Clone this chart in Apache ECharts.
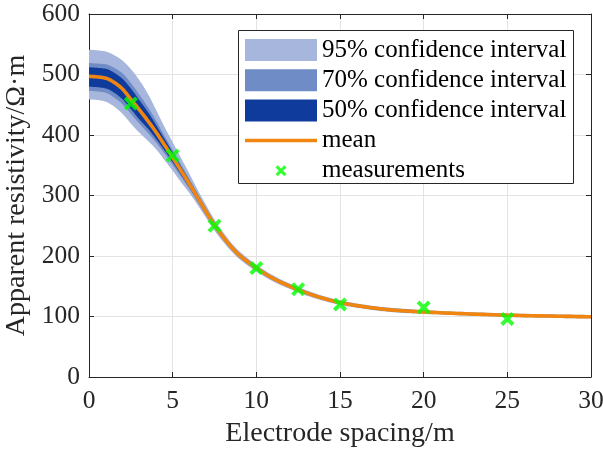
<!DOCTYPE html>
<html><head><meta charset="utf-8">
<script src="https://cdn.jsdelivr.net/npm/echarts@6/dist/echarts.min.js"></script>
<style>html,body{margin:0;padding:0;background:#fff}#c{width:603px;height:454px}</style>
</head><body><div id="c"></div>
<script>
// ---- data ----
const xs       = [0,0.5,1,1.5,2,2.5,3,3.5,4,4.5,5,5.5,6,6.5,7,7.5,8,8.5,9,9.5,10,11,12,13,14,15,16,17,18,19,20,22,24,26,28,30];
const meanVals = [497,496,494,487,476,459,442,424,405,384,363,341,319,296,273,251,232,215,201,190,180,163,150,139,130,123,118,114,111,109,107.5,105,103,101.5,100.5,99.5];
const upper95  = [541,540,538,532,523,509,491,469,442,414,388,362,336,309,284,260,240,222,207.5,196,185.5,168,154.5,143.5,134,127,121.5,117.5,114.5,112.5,110.5,108,106,104.5,103.5,102.5];
const lower95  = [459,458,455,447,435,419,404,391,377,359,341,322,304,284,263,242,224,208,194.5,184,174.5,158,145.5,134.5,126,119,114.5,110.5,107.5,105.5,104.5,102,100,98.5,97.5,96.5];
const upper70  = [519,518,517,511,502,486,467,447,424,399,375,351,327,303,279,256,236.5,219,205,193.5,183.5,166,153,141.5,132.5,125.5,120.5,116.5,113.5,111.5,109.5,107,105,103.5,102.5,101.5];
const lower70  = [473,472,470,462,451,435,419,404,388,370,351,331,311,289,267,246,227.5,211,197,186.5,176.5,160,147,136.5,127.5,120.5,115.5,111.5,108.5,106.5,105.5,103,101,99.5,98.5,97.5];
const upper50  = [512,511,509.5,503,493,477,458,439,417,394,371,347.5,324.5,300.5,277,254.5,235,218,203.5,192.5,182.5,165,152,141,132,125,120,116,113,111,109,106.5,104.5,103,102,101];
const lower50  = [480,479,477,470,459,443,426,411,394,375,355,334.5,313.5,291.5,269,247.5,229,212,198.5,187.5,177.5,161,148,137,128,121,116,112,109,107,106,103.5,101.5,100,99,98];
const measX    = [2.5,5,7.5,10,12.5,15,20,25];
const measY    = [452,366,250,180,145,120,115,96];
const xTickVals = [0,5,10,15,20,25,30];
const yTickVals = [0,100,200,300,400,500,600];
const seriesNames = ['95% confidence interval','70% confidence interval','50% confidence interval','mean','measurements'];
const xTitle = 'Electrode spacing/m';
const yTitle = 'Apparent resistivity/\u03A9\u00B7m';

// ---- styling ----
const C95 = '#a6b6dc', C70 = '#6f8cc6', C50 = '#0f3c9c', CMEAN = '#f0860f', CMEAS = '#00ff00';
const FONT = 'Liberation Serif';
const AX = '#262626';

// monotone cubic (PCHIP) smoothing of screen points, for drawing only
function smoothScreen(P, S) {
  const n = P.length;
  if (n < 3) return P.slice();
  const h = [], m = [];
  for (let k = 0; k < n - 1; k++) {
    h[k] = P[k + 1][0] - P[k][0];
    m[k] = (P[k + 1][1] - P[k][1]) / h[k];
  }
  const t = new Array(n);
  t[0] = m[0]; t[n - 1] = m[n - 2];
  for (let k = 1; k < n - 1; k++) {
    if (m[k - 1] * m[k] <= 0) t[k] = 0;
    else {
      const w1 = 2 * h[k] + h[k - 1], w2 = h[k] + 2 * h[k - 1];
      t[k] = (w1 + w2) / (w1 / m[k - 1] + w2 / m[k]);
    }
  }
  const out = [];
  for (let k = 0; k < n - 1; k++) {
    for (let s = 0; s < S; s++) {
      const u = s / S, u2 = u * u, u3 = u2 * u;
      const h00 = 2 * u3 - 3 * u2 + 1, h10 = u3 - 2 * u2 + u, h01 = -2 * u3 + 3 * u2, h11 = u3 - u2;
      out.push([P[k][0] + u * h[k],
        h00 * P[k][1] + h10 * h[k] * t[k] + h01 * P[k + 1][1] + h11 * h[k] * t[k + 1]]);
    }
  }
  out.push(P[n - 1].slice());
  return out;
}

function bandSeries(name, lower, upper, color, z) {
  return {
    type: 'custom', name, silent: true, z,
    itemStyle: {color},
    data: xs.map((x, i) => [x, lower[i], upper[i]]),
    encode: {x: 0, y: [1, 2]},
    renderItem: function (params, api) {
      if (params.dataIndex !== 0) return null;
      const up = smoothScreen(xs.map((x, i) => api.coord([x, upper[i]])), 8);
      const lo = smoothScreen(xs.map((x, i) => api.coord([x, lower[i]])), 8);
      return {
        type: 'polygon',
        shape: {points: up.concat(lo.reverse())},
        style: {fill: color, stroke: null}
      };
    }
  };
}

function meanSeries(name, ys, color) {
  return {
    type: 'custom', name, silent: true, z: 3,
    itemStyle: {color},
    data: xs.map((x, i) => [x, ys[i]]),
    encode: {x: 0, y: 1},
    renderItem: function (params, api) {
      if (params.dataIndex !== 0) return null;
      const p = smoothScreen(xs.map((x, i) => api.coord([x, ys[i]])), 8);
      return {
        type: 'polyline',
        shape: {points: p},
        style: {fill: null, stroke: color, lineWidth: 3.6, lineJoin: 'round'}
      };
    }
  };
}

const xMarkPath = 'path://M2,0 L5,3 L8,0 L10,2 L7,5 L10,8 L8,10 L5,7 L2,10 L0,8 L3,5 L0,2 Z';
const xMarkLegend = 'path://M0,0 M72,22 M32.7,5.5 L36,8.8 L39.3,5.5 L41.5,7.7 L38.2,11 L41.5,14.3 L39.3,16.5 L36,13.2 L32.7,16.5 L30.5,14.3 L33.8,11 L30.5,7.7 Z';
const lineLegend = 'path://M0,0 M72,22 M0,9.25 L72,9.25 L72,12.75 L0,12.75 Z';

const chart = echarts.init(document.getElementById('c'), null, {renderer: 'canvas'});
chart.setOption({
  animation: false,
  backgroundColor: '#fff',
  grid: {left: 89, right: 12, top: 14, bottom: 77, containLabel: false, outerBoundsMode: 'none'},
  xAxis: [{
    type: 'value', min: 0, max: 30, interval: 5,
    name: xTitle, nameLocation: 'middle', nameGap: 43,
    nameTextStyle: {fontFamily: FONT, fontSize: 28, color: AX},
    axisLine: {show: true, onZero: false, lineStyle: {color: AX, width: 1}},
    axisTick: {show: true, inside: true, length: 5, lineStyle: {color: AX}},
    axisLabel: {fontFamily: FONT, fontSize: 25.5, color: AX, margin: 11,
      formatter: v => xTickVals.includes(v) ? String(v) : ''},
    splitLine: {show: true, lineStyle: {color: '#e3e3e3', width: 1}}
  }, {
    type: 'value', min: 0, max: 30, interval: 5, position: 'top',
    axisLine: {show: true, onZero: false, lineStyle: {color: AX, width: 1}},
    axisTick: {show: true, inside: true, length: 5, lineStyle: {color: AX}},
    axisLabel: {show: false}, splitLine: {show: false}
  }],
  yAxis: [{
    type: 'value', min: 0, max: 600, interval: 100,
    name: yTitle, nameLocation: 'middle', nameGap: 48, nameRotate: 90,
    nameTextStyle: {fontFamily: FONT, fontSize: 28, color: AX},
    axisLine: {show: true, onZero: false, lineStyle: {color: AX, width: 1}},
    axisTick: {show: true, inside: true, length: 5, lineStyle: {color: AX}},
    axisLabel: {fontFamily: FONT, fontSize: 25.5, color: AX, margin: 9,
      formatter: v => yTickVals.includes(v) ? String(v) : ''},
    splitLine: {show: true, lineStyle: {color: '#e3e3e3', width: 1}}
  }, {
    type: 'value', min: 0, max: 600, interval: 100, position: 'right',
    axisLine: {show: true, onZero: false, lineStyle: {color: AX, width: 1}},
    axisTick: {show: true, inside: true, length: 5, lineStyle: {color: AX}},
    axisLabel: {show: false}, splitLine: {show: false}
  }],
  legend: {
    orient: 'vertical', left: 245, top: 37.5, padding: 0,
    itemWidth: 72, itemHeight: 22, itemGap: 5.2,
    textStyle: {fontFamily: FONT, fontSize: 25, color: '#000', lineHeight: 22},
    selectedMode: false,
    data: [
      {name: seriesNames[0], icon: 'rect'},
      {name: seriesNames[1], icon: 'rect'},
      {name: seriesNames[2], icon: 'rect'},
      {name: seriesNames[3], icon: lineLegend},
      {name: seriesNames[4], icon: xMarkLegend}
    ],
    z: 10
  },
  graphic: [{
    type: 'rect', left: 238, top: 30, z: 5,
    shape: {width: 335, height: 153},
    style: {fill: '#fff', stroke: AX, lineWidth: 1}
  }],
  series: [
    bandSeries(seriesNames[0], lower95, upper95, C95, 1),
    bandSeries(seriesNames[1], lower70, upper70, C70, 1.1),
    bandSeries(seriesNames[2], lower50, upper50, C50, 1.2),
    meanSeries(seriesNames[3], meanVals, CMEAN),
    {type: 'scatter', name: seriesNames[4], data: measX.map((x, i) => [x, measY[i]]),
     symbol: xMarkPath, symbolSize: 14, color: CMEAS, itemStyle: {color: CMEAS}, z: 4}
  ]
});
</script>
</body></html>
